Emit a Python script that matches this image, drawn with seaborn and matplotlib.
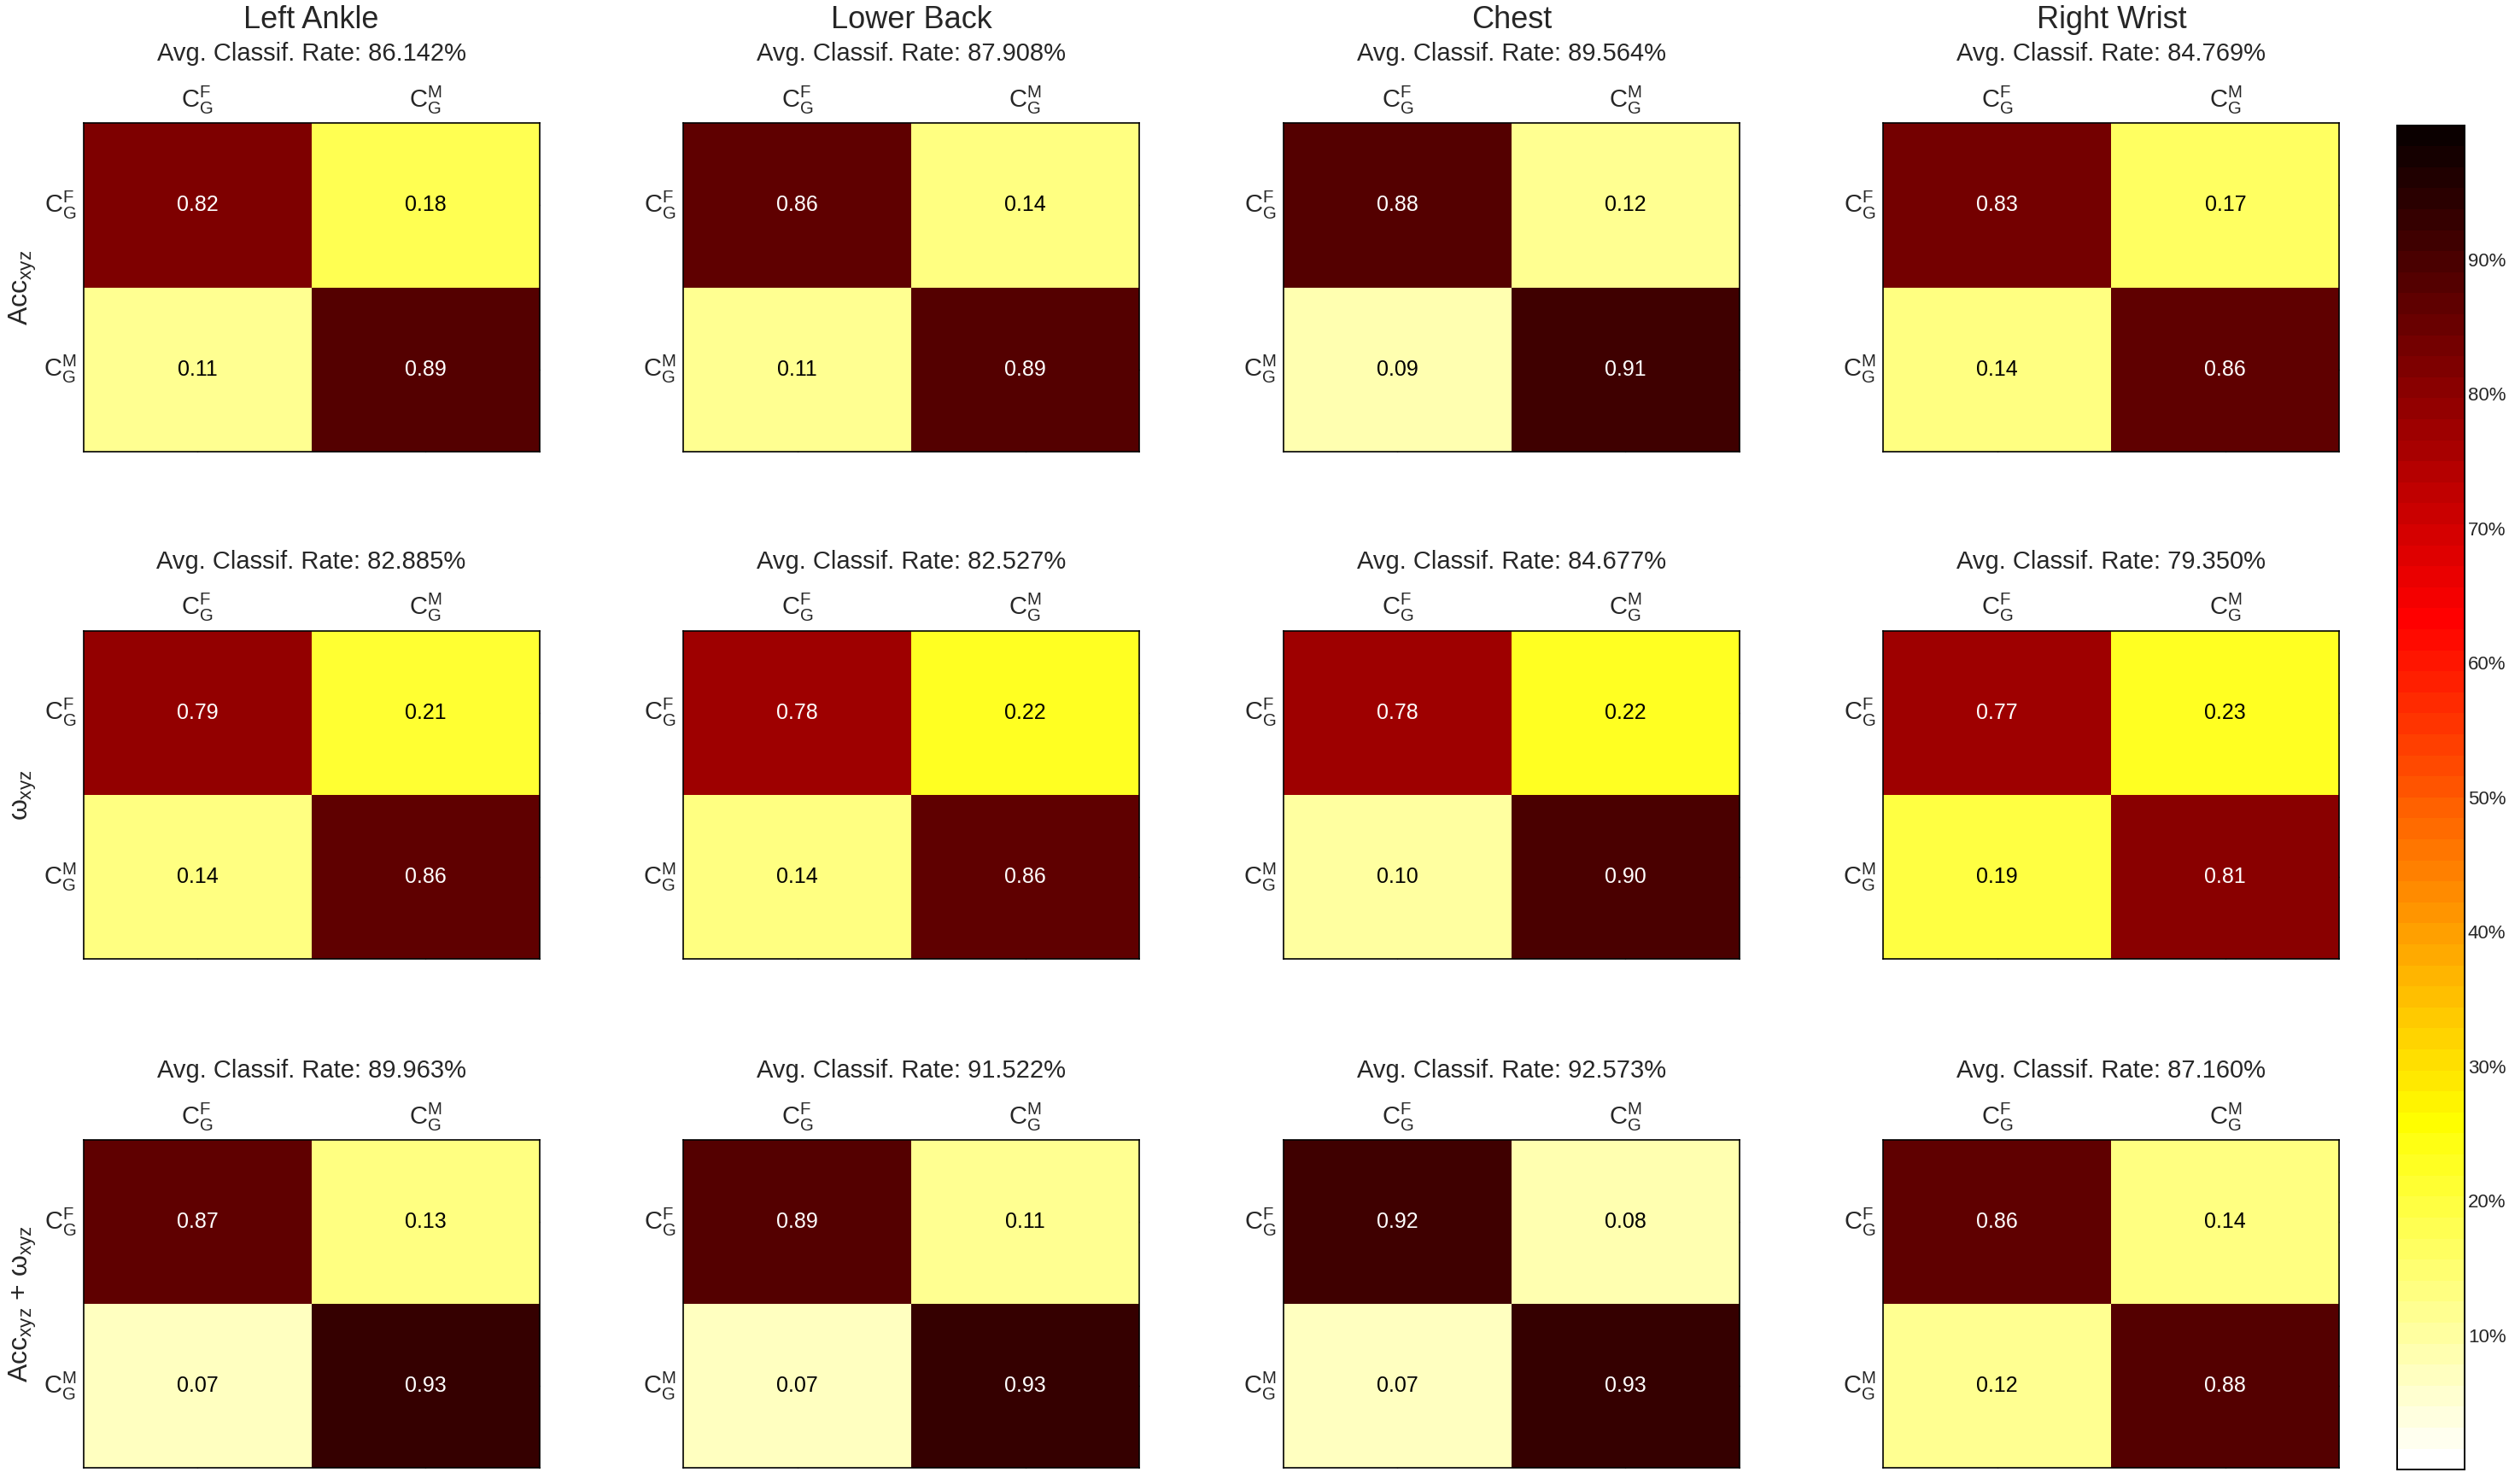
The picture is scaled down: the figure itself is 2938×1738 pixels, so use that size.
import numpy as np
import matplotlib
matplotlib.use("Agg")
import matplotlib.pyplot as plt
import seaborn as sns
from matplotlib.colors import ListedColormap

sns.set_style("white")
plt.rcParams['font.family'] = ['Liberation Sans', 'DejaVu Sans']
plt.rcParams['mathtext.fontset'] = 'custom'
plt.rcParams['mathtext.rm'] = 'Liberation Sans'
plt.rcParams['mathtext.it'] = 'Liberation Sans'

locations = ["Left Ankle", "Lower Back", "Chest", "Right Wrist"]
row_labels = [r"Acc$_{\mathrm{xyz}}$", r"$\omega_{\mathrm{xyz}}$", r"Acc$_{\mathrm{xyz}}$ + $\omega_{\mathrm{xyz}}$"]
class_labels = [r"$\mathrm{C}_{\mathrm{G}}^{\mathrm{F}}$", r"$\mathrm{C}_{\mathrm{G}}^{\mathrm{M}}$"]
rates = [[86.142, 87.908, 89.564, 84.769],
         [82.885, 82.527, 84.677, 79.350],
         [89.963, 91.522, 92.573, 87.160]]
acc = [[[0.82, 0.18], [0.11, 0.89]], [[0.86, 0.14], [0.11, 0.89]],
       [[0.88, 0.12], [0.09, 0.91]], [[0.83, 0.17], [0.14, 0.86]]]
gyr = [[[0.79, 0.21], [0.14, 0.86]], [[0.78, 0.22], [0.14, 0.86]],
       [[0.78, 0.22], [0.10, 0.90]], [[0.77, 0.23], [0.19, 0.81]]]
both = [[[0.87, 0.13], [0.07, 0.93]], [[0.89, 0.11], [0.07, 0.93]],
        [[0.92, 0.08], [0.07, 0.93]], [[0.86, 0.14], [0.12, 0.88]]]
mats = [acc, gyr, both]
cbar_ticks = [0.1, 0.2, 0.3, 0.4, 0.5, 0.6, 0.7, 0.8, 0.9]

cmap = ListedColormap(plt.get_cmap('hot_r')(np.linspace(0, 1, 64)))

fig = plt.figure(figsize=(29.38, 17.38), dpi=100)
xs = [0.0332, 0.2723, 0.5115, 0.7506]
ys = [0.6958, 0.3538, 0.0108]
w, h = 0.1818, 0.2211
cax = fig.add_axes([0.9554, 0.0097, 0.0268, 0.906])
for r in range(3):
    for c in range(4):
        ax = fig.add_axes([xs[c], ys[r], w, h])
        data = np.array(mats[r][c])
        first = (r == 0 and c == 0)
        sns.heatmap(data, ax=ax, cmap=cmap, vmin=0, vmax=1, cbar=first,
                    cbar_ax=cax if first else None,
                    xticklabels=class_labels, yticklabels=class_labels)
        for i in range(2):
            for j in range(2):
                v = data[i, j]
                ax.text(j + 0.5, i + 0.5, f"{v:.2f}", ha='center', va='center',
                        fontsize=18, color='white' if v > 0.5 else 'black')
        ax.xaxis.tick_top()
        ax.tick_params(axis='both', direction='in', length=5, width=1, labelsize=21,
                       top=True, bottom=True, left=True, right=True, pad=6)
        ax.tick_params(axis='x', labeltop=True, labelbottom=False)
        plt.setp(ax.get_yticklabels(), rotation=0, va='center')
        for s in ax.spines.values():
            s.set_visible(True); s.set_color('black'); s.set_linewidth(1.2)
        title = f"Avg. Classif. Rate: {rates[r][c]:.3f}%"
        ax.text(0.5, 1.175, title, transform=ax.transAxes, ha='center', va='bottom', fontsize=21)
        if r == 0:
            ax.text(0.5, 1.27, locations[c], transform=ax.transAxes, ha='center', va='bottom', fontsize=26)
        if c == 0:
            ax.set_ylabel(row_labels[r], fontsize=23, labelpad=4)

cax.set_yticks(cbar_ticks)
cax.set_yticklabels([f"{int(round(t*100))}%" for t in cbar_ticks])
cax.tick_params(direction='in', length=8, labelsize=16, left=True, right=True, pad=3)
for s in cax.spines.values():
    s.set_visible(True); s.set_color('black'); s.set_linewidth(1.2)

fig.savefig("out.png", dpi=100)
